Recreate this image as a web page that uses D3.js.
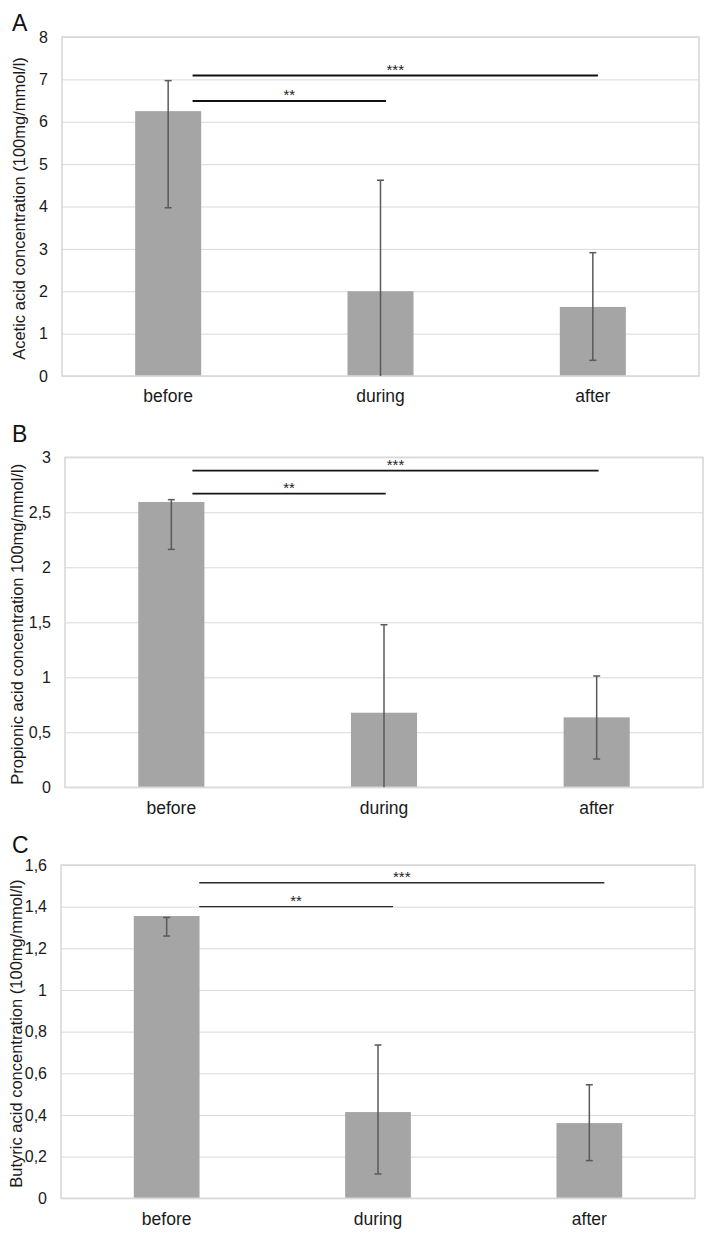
<!DOCTYPE html>
<html>
<head>
<meta charset="utf-8">
<script src="https://cdn.jsdelivr.net/npm/d3@7"></script>
<style>
  html, body { margin: 0; padding: 0; background: #fff; }
  svg { display: block; font-family: "Liberation Sans", Arial, sans-serif; }
</style>
</head>
<body>
<svg id="chart" width="722" height="1241"></svg>
<script>
// ---------------- DATA ----------------
const categories = ["before", "during", "after"];

// Panel A – acetic acid
const acetTitle = "Acetic acid concentration (100mg/mmol/l)";
const acetMeans = [6.25, 2.0, 1.63];
const acetHigh  = [6.97, 4.62, 2.91];
const acetLow   = [3.97, 0, 0.37];
const acetTicks = [0, 1, 2, 3, 4, 5, 6, 7, 8];
const acetTickLabels = ["0", "1", "2", "3", "4", "5", "6", "7", "8"];
const acetSig = [
  { label: "**",  from: 0.115, to: 1.026, y: 6.49 },
  { label: "***", from: 0.115, to: 2.024, y: 7.09 }
];

// Panel B – propionic acid
const propTitle = "Propionic acid concentration 100mg/mmol/l)";
const propMeans = [2.594, 0.678, 0.636];
const propHigh  = [2.615, 1.478, 1.012];
const propLow   = [2.163, 0, 0.257];
const propTicks = [0, 0.5, 1, 1.5, 2, 2.5, 3];
const propTickLabels = ["0", "0,5", "1", "1,5", "2", "2,5", "3"];
const propSig = [
  { label: "**",  from: 0.099, to: 1.008, y: 2.669 },
  { label: "***", from: 0.099, to: 2.009, y: 2.878 }
];

// Panel C – butyric acid
const butTitle = "Butyric acid concentration (100mg/mmol/l)";
const butMeans = [1.355, 0.414, 0.361];
const butHigh  = [1.348, 0.736, 0.545];
const butLow   = [1.259, 0.117, 0.181];
const butTicks = [0, 0.2, 0.4, 0.6, 0.8, 1, 1.2, 1.4, 1.6];
const butTickLabels = ["0", "0,2", "0,4", "0,6", "0,8", "1", "1,2", "1,4", "1,6"];
const butSig = [
  { label: "**",  from: 0.154, to: 1.071, y: 1.40 },
  { label: "***", from: 0.154, to: 2.071, y: 1.515 }
];

// ---------------- LAYOUT ----------------
const panels = [
  { letter: "A", title: acetTitle, means: acetMeans, hi: acetHigh, lo: acetLow,
    ticks: acetTicks, tickLabels: acetTickLabels, sig: acetSig,
    box: { l: 62, t: 37, r: 699, b: 376 }, letterY: 31, titleX: 25,
    sigW: 2, sigColor: "#111" },
  { letter: "B", title: propTitle, means: propMeans, hi: propHigh, lo: propLow,
    ticks: propTicks, tickLabels: propTickLabels, sig: propSig,
    box: { l: 65, t: 457.3, r: 703, b: 787.3 }, letterY: 442, titleX: 22.7,
    sigW: 1.7, sigColor: "#151515" },
  { letter: "C", title: butTitle, means: butMeans, hi: butHigh, lo: butLow,
    ticks: butTicks, tickLabels: butTickLabels, sig: butSig,
    box: { l: 61, t: 865, r: 695, b: 1198.3 }, letterY: 853, titleX: 22,
    sigW: 1.4, sigColor: "#2a2a2a" }
];

const svg = d3.select("#chart");
svg.append("rect").attr("width", 722).attr("height", 1241).attr("fill", "#fff");

const gridColor = "#d9d9d9";
const barColor = "#a5a5a5";
const errColor = "#5a5a5a";
const FONT = "Liberation Sans, Arial, sans-serif";

panels.forEach(p => {
  const { l, t, r, b } = p.box;
  const g = svg.append("g");

  const x = d3.scaleBand().domain(categories).range([l, r])
    .paddingInner(0.689).paddingOuter(0.3445);
  const xi = d3.scaleLinear().domain([-0.5, categories.length - 0.5]).range([l, r]);
  const y = d3.scaleLinear().domain([0, d3.max(p.ticks)]).range([b, t]);

  // gridlines
  const grid = g.append("g").attr("transform", `translate(${l},0)`)
    .call(d3.axisLeft(y).tickValues(p.ticks).tickSize(-(r - l)).tickFormat(""));
  grid.select(".domain").remove();
  grid.selectAll(".tick line").attr("stroke", gridColor).attr("stroke-width", 1);

  // bars
  g.selectAll(".bar").data(p.means).join("rect")
    .attr("x", (d, i) => x(categories[i]))
    .attr("width", x.bandwidth())
    .attr("y", d => y(d))
    .attr("height", d => y(0) - y(d))
    .attr("fill", barColor);

  // frame
  g.append("rect").attr("x", l).attr("y", t).attr("width", r - l).attr("height", b - t)
    .attr("fill", "none").attr("stroke", gridColor).attr("stroke-width", 1.6);

  // error bars
  const cap = 3.5;
  p.means.forEach((m, i) => {
    const cx = x(categories[i]) + x.bandwidth() / 2;
    g.append("line").attr("x1", cx).attr("x2", cx)
      .attr("y1", y(p.hi[i])).attr("y2", y(p.lo[i]))
      .attr("stroke", errColor).attr("stroke-width", 1.5);
    g.append("line").attr("x1", cx - cap).attr("x2", cx + cap)
      .attr("y1", y(p.hi[i])).attr("y2", y(p.hi[i]))
      .attr("stroke", errColor).attr("stroke-width", 1.5);
    if (p.lo[i] > 0) {
      g.append("line").attr("x1", cx - cap).attr("x2", cx + cap)
        .attr("y1", y(p.lo[i])).attr("y2", y(p.lo[i]))
        .attr("stroke", errColor).attr("stroke-width", 1.5);
    }
  });

  // significance brackets
  p.sig.forEach(s => {
    g.append("line").attr("x1", xi(s.from)).attr("x2", xi(s.to))
      .attr("y1", y(s.y)).attr("y2", y(s.y))
      .attr("stroke", p.sigColor).attr("stroke-width", p.sigW);
    g.append("text").attr("x", (xi(s.from) + xi(s.to)) / 2).attr("y", y(s.y) - 1)
      .attr("text-anchor", "middle").attr("font-size", 15).attr("fill", "#222")
      .attr("font-family", FONT)
      .text(s.label);
  });

  // y axis labels
  const ya = g.append("g").attr("transform", `translate(${l},0)`)
    .call(d3.axisLeft(y).tickValues(p.ticks).tickSize(0).tickPadding(14)
      .tickFormat((d, i) => p.tickLabels[i]));
  ya.select(".domain").remove();
  ya.selectAll("text").attr("font-size", 16).attr("fill", "#1a1a1a")
    .attr("font-family", FONT);

  // x axis labels
  const xa = g.append("g").attr("transform", `translate(0,${b})`)
    .call(d3.axisBottom(x).tickSize(0).tickPadding(14));
  xa.select(".domain").remove();
  xa.selectAll("text").attr("font-size", 17.5).attr("fill", "#1a1a1a")
    .attr("font-family", FONT);

  // y title
  g.append("text")
    .attr("transform", `translate(${p.titleX},${(t + b) / 2 + 2}) rotate(-90)`)
    .attr("text-anchor", "middle").attr("font-size", 16.5).attr("fill", "#1a1a1a")
    .attr("font-family", FONT)
    .text(p.title);

  // panel letter
  g.append("text").attr("x", 12).attr("y", p.letterY)
    .attr("font-size", 23).attr("fill", "#111").attr("font-family", FONT)
    .text(p.letter);
});
</script>
</body>
</html>
